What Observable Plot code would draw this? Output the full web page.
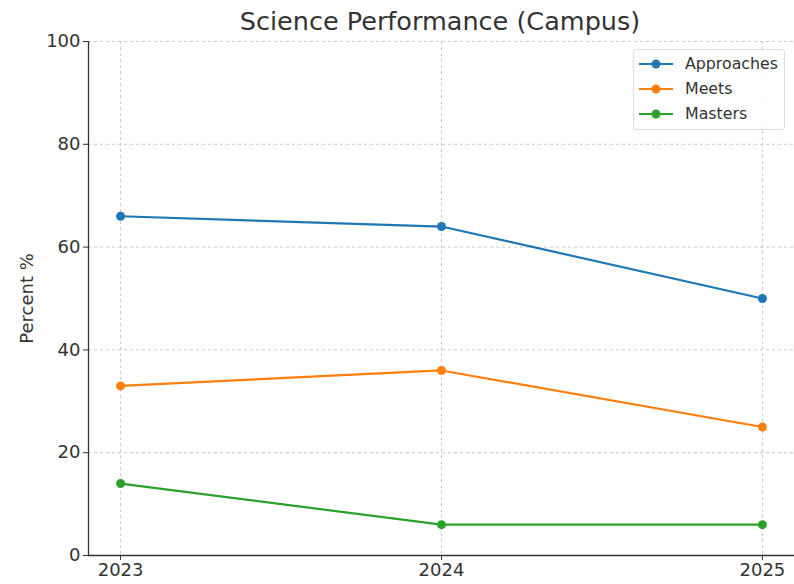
<!DOCTYPE html>
<html><head><meta charset="utf-8">
<script src="https://cdn.jsdelivr.net/npm/d3@7"></script>
<script src="https://cdn.jsdelivr.net/npm/@observablehq/plot@0.6"></script>
<style>
body{margin:0;background:#fff;font-family:"DejaVu Sans",sans-serif;}
#wrap{position:relative;width:794px;height:584px;overflow:hidden;}
#title{height:32px;line-height:42px;font-size:25.5px;color:#333;text-align:center;padding-left:86px;box-sizing:border-box;width:794px;}
#legend{position:absolute;left:633px;top:49px;width:152px;height:81px;border:1px solid #ddd;border-radius:3px;background:rgba(255,255,255,0.85);box-sizing:border-box;font-size:15.8px;color:#333;}
.li{position:absolute;left:5px;height:20px;}
.li svg{position:absolute;left:0;top:0;}
.li span{position:absolute;left:46px;top:0;line-height:20px;white-space:nowrap;}
</style></head>
<body><div id="wrap"><div id="title"></div><div id="chart"></div><div id="legend"></div></div>
<script>
const years = [2023, 2024, 2025];
const approaches = [66, 64, 50];
const meets = [33, 36, 25];
const masters = [14, 6, 6];
const seriesNames = ["Approaches", "Meets", "Masters"];
const seriesColors = ["#1f77b4", "#ff7f0e", "#2ca02c"];
const yTicks = [0, 20, 40, 60, 80, 100];
const titleText = "Science Performance (Campus)";
const yLabel = "Percent %";

const seriesValues = [approaches, meets, masters];
const data = [];
seriesNames.forEach((s, i) => years.forEach((y, j) => data.push({series: s, year: y, value: seriesValues[i][j]})));

document.getElementById("title").textContent = titleText;

const plot = Plot.plot({
  width: 794, height: 552,
  marginLeft: 88, marginRight: 0, marginTop: 9, marginBottom: 29,
  style: {fontFamily: "DejaVu Sans, sans-serif", fontSize: "18px", color: "#333", overflow: "visible"},
  x: {domain: [2022.9, 2025.1], ticks: years, tickFormat: d => String(d), label: null},
  y: {domain: [0, 100], ticks: yTicks, label: null},
  color: {domain: seriesNames, range: seriesColors},
  marks: [
    Plot.gridX(years, {stroke: "#bbb", strokeOpacity: 0.8, strokeDasharray: "3,3"}),
    Plot.gridY(yTicks, {stroke: "#bbb", strokeOpacity: 0.8, strokeDasharray: "3,3"}),
    Plot.ruleY([0], {stroke: "#333", strokeWidth: 1.3}),
    Plot.ruleX([2022.9], {stroke: "#333", strokeWidth: 1.3}),
    Plot.axisX({ticks: years, tickFormat: d => String(d), tickSize: 5, tickPadding: 3, fontSize: 18, label: null, stroke: "#333"}),
    Plot.axisY({ticks: yTicks, tickSize: 5, tickPadding: 3, fontSize: 18, label: null, stroke: "#333"}),
    Plot.line(data, {x: "year", y: "value", z: "series", stroke: "series", strokeWidth: 2.2}),
    Plot.dot(data, {x: "year", y: "value", fill: "series", r: 4.5}),
    Plot.text([yLabel], {frameAnchor: "left", textAnchor: "middle", dx: -61, rotate: -90, text: d => d, fontSize: 18, fill: "#333"})
  ]
});
document.getElementById("chart").appendChild(plot);

const lg = document.getElementById("legend");
seriesNames.forEach((s, i) => {
  const d = document.createElement("div");
  d.className = "li";
  d.style.top = (4 + i * 25) + "px";
  d.innerHTML = `<svg width="40" height="20"><line x1="0" y1="10" x2="34" y2="10" stroke="${seriesColors[i]}" stroke-width="2.2"/><circle cx="17" cy="10" r="4.5" fill="${seriesColors[i]}"/></svg><span></span>`;
  d.querySelector("span").textContent = s;
  lg.appendChild(d);
});
</script></body></html>
